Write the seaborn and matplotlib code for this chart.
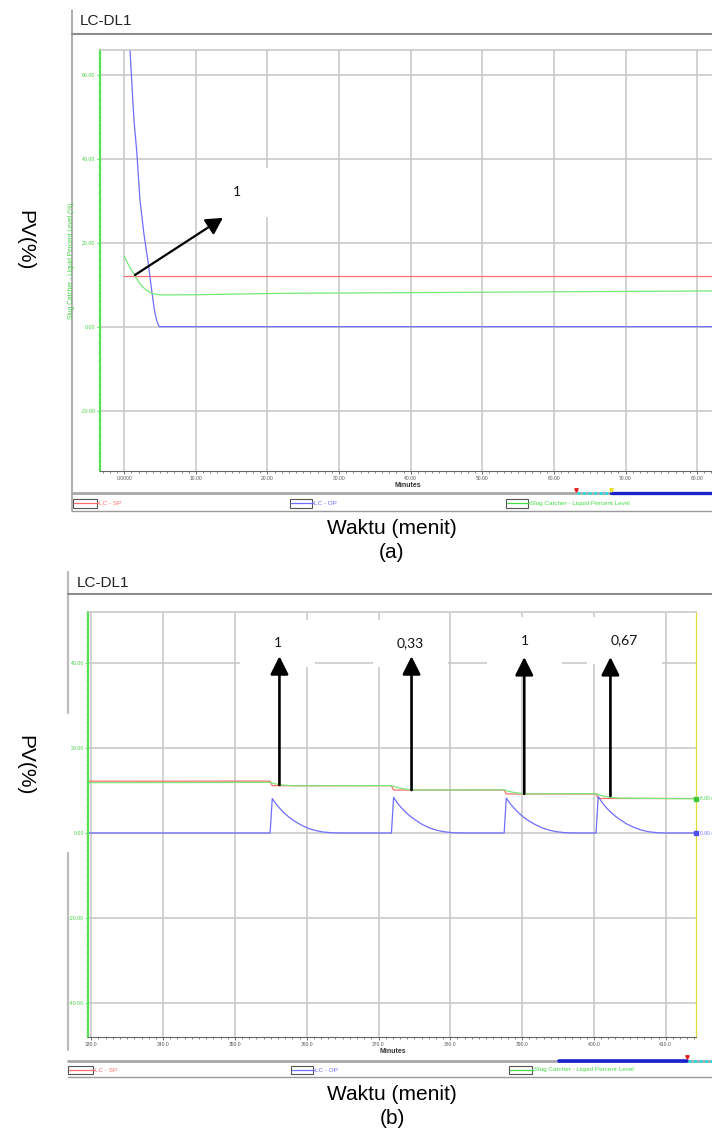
import matplotlib
matplotlib.use("Agg")
import matplotlib.pyplot as plt
import seaborn as sns
from matplotlib.patches import Rectangle
from matplotlib.ticker import MultipleLocator, FixedLocator

sns.set_style("white")
plt.rcParams["font.family"] = ["Liberation Sans", "DejaVu Sans"]

W, H = 712, 1140

# ---------------- data: panel (a) ----------------
a_sp_t = [0.0, 82.1]
a_sp_v = [12.07, 12.07]
a_pv_t = [0.0, 0.5, 1.0, 1.49, 2.0, 2.5, 3.0, 3.82, 4.5, 5.44, 10.0, 22.6, 40.0, 60.0, 82.1]
a_pv_v = [16.7, 15.0, 13.5, 12.07, 10.7, 9.6, 8.8, 7.95, 7.65, 7.55, 7.6, 7.95, 8.1, 8.3, 8.5]
a_op_t = [0.0, 0.8, 1.35, 1.73, 2.19, 2.75, 3.35, 3.8, 4.2, 4.55, 4.88, 20.0, 40.0, 60.0, 82.1]
a_op_v = [90.0, 65.9, 49.2, 42.0, 30.2, 22.0, 15.1, 9.0, 4.0, 1.3, 0.0, 0.0, 0.0, 0.0, 0.0]
a_xticks = [0, 10, 20, 30, 40, 50, 60, 70, 80]
a_xticklabels = ["0.0000", "10.00", "20.00", "30.00", "40.00", "50.00", "60.00", "70.00", "80.00"]
a_yticks = [-20, 0, 20, 40, 60]
a_yticklabels = ["-20.00", "0.00", "20.00", "40.00", "60.00"]
a_arrow_start = [(1.49, 12.3)]
a_arrow_end = [(13.77, 25.9)]
a_labels = ["1"]
a_label_x = [15.8]
a_label_y = [32.0]

# ---------------- data: panel (b) ----------------
b_sp_t = [329.6, 354.9, 355.2, 371.8, 372.1, 387.5, 387.8, 400.3, 400.6, 414.15]
b_sp_v = [12.2, 12.2, 11.13, 11.13, 10.1, 10.1, 9.18, 9.18, 8.12, 8.12]
b_pv_t = [329.6, 354.9, 355.5, 356.5, 358.0, 371.8, 372.4, 373.5, 375.0, 387.5, 388.1,
          389.2, 390.5, 400.3, 400.9, 402.0, 403.5, 414.15]
b_pv_v = [11.85, 11.9, 11.6, 11.3, 11.1, 11.15, 10.8, 10.4, 10.1, 10.15, 9.8,
          9.45, 9.2, 9.25, 8.85, 8.45, 8.2, 8.05]
b_op_t = [329.6,
          354.9, 355.2, 355.7, 356.2, 356.7, 357.2, 357.7, 358.2, 359.2, 360.2, 361.2, 362.2, 363.5, 365.0,
          371.8, 372.1, 372.6, 373.1, 373.6, 374.1, 374.6, 375.1, 376.1, 377.1, 378.1, 379.1, 380.4, 382.0,
          387.5, 387.8, 388.3, 388.8, 389.3, 389.8, 390.3, 390.8, 391.8, 392.8, 393.8, 394.8, 396.1, 397.7,
          400.3, 400.6, 401.1, 401.6, 402.1, 402.6, 403.1, 403.6, 404.6, 405.6, 406.6, 407.6, 408.9, 410.5,
          414.15]
b_op_v = [0.0,
          0.0, 8.1, 6.9, 5.9, 5.0, 4.2, 3.5, 2.9, 1.9, 1.1, 0.6, 0.25, 0.05, 0.0,
          0.0, 8.4, 7.1, 6.1, 5.2, 4.4, 3.7, 3.1, 2.0, 1.2, 0.65, 0.3, 0.05, 0.0,
          0.0, 8.2, 7.0, 6.0, 5.1, 4.3, 3.6, 3.0, 2.0, 1.2, 0.65, 0.3, 0.05, 0.0,
          0.0, 8.6, 7.3, 6.2, 5.3, 4.5, 3.8, 3.2, 2.1, 1.3, 0.7, 0.3, 0.05, 0.0,
          0.0]
b_xticks = [330, 340, 350, 360, 370, 380, 390, 400, 410]
b_xticklabels = ["330.0", "340.0", "350.0", "360.0", "370.0", "380.0", "390.0", "400.0", "410.0"]
b_yticks = [-40, -20, 0, 20, 40]
b_yticklabels = ["-40.00", "-20.00", "0.00", "20.00", "40.00"]
b_labels = ["1", "0,33", "1", "0,67"]
b_arrow_x = [356.2, 374.6, 390.3, 402.3]
b_arrow_base = [11.3, 10.1, 9.2, 8.7]
b_arrow_tip = [41.6, 41.6, 41.4, 41.4]
b_label_x = [356.0, 374.4, 390.4, 404.2]
b_label_y = [44.6, 44.6, 45.2, 45.4]

legend_names = ["LC - SP", "LC - OP", "Slug Catcher - Liquid Percent Level"]

C_SP = "#ff6e6e"
C_OP = "#6e6eff"
C_PV = "#78e878"
C_AX = "#55e055"
C_TXT_G = "#44d044"
C_GRID = "#c6c6c6"

fig = plt.figure(figsize=(W / 100, H / 100), dpi=100)
fig.patch.set_facecolor("white")

# decoration layer in pixel coordinates
dax = fig.add_axes([0, 0, 1, 1], zorder=0)
dax.set_xlim(0, W)
dax.set_ylim(H, 0)
dax.axis("off")


def px_axes(left, top, right, bottom):
    return fig.add_axes([left / W, 1 - bottom / H, (right - left) / W, (bottom - top) / H], zorder=2)


def style_axes(ax, xlim, ylim, xticks, xticklabels, yticks, yticklabels, right_color=None):
    ax.set_facecolor("white")
    ax.set_xlim(*xlim)
    ax.set_ylim(*ylim)
    ax.xaxis.set_major_locator(FixedLocator(xticks))
    ax.set_xticklabels(xticklabels)
    ax.xaxis.set_minor_locator(MultipleLocator(1))
    ax.yaxis.set_major_locator(FixedLocator(yticks))
    ax.set_yticklabels(yticklabels)
    ax.yaxis.set_minor_locator(MultipleLocator(2))
    ax.set_axisbelow(True)
    ax.grid(True, which="major", color=C_GRID, lw=1.1)
    ax.grid(False, which="minor")
    ax.tick_params(axis="x", which="major", direction="out", length=2.4, width=0.6,
                   color="#555555", labelsize=3.6, labelcolor="#555555", pad=1.2, bottom=True)
    ax.tick_params(axis="x", which="minor", direction="out", length=1.4, width=0.5,
                   color="#555555", bottom=True)
    ax.tick_params(axis="y", which="major", direction="out", length=2.2, width=0.7,
                   color=C_AX, labelsize=3.8, labelcolor=C_TXT_G, pad=1.0, left=True)
    ax.tick_params(axis="y", which="minor", direction="out", length=1.4, width=0.6,
                   color=C_AX, left=True)
    ax.spines["left"].set_color(C_AX)
    ax.spines["left"].set_linewidth(1.6)
    ax.spines["bottom"].set_color("#666666")
    ax.spines["bottom"].set_linewidth(0.8)
    ax.spines["top"].set_color(C_GRID)
    ax.spines["top"].set_linewidth(1.1)
    if right_color is None:
        ax.spines["right"].set_visible(False)
    else:
        ax.spines["right"].set_color(right_color)
        ax.spines["right"].set_linewidth(0.9)
    ax.set_xlabel("Minutes", fontsize=5, fontweight="bold", color="#333333")


def lines(ax, t_sp, v_sp, t_op, v_op, t_pv, v_pv):
    sns.lineplot(x=t_sp, y=v_sp, ax=ax, color=C_SP, lw=0.9, estimator=None, sort=False)
    sns.lineplot(x=t_op, y=v_op, ax=ax, color=C_OP, lw=0.9, estimator=None, sort=False)
    sns.lineplot(x=t_pv, y=v_pv, ax=ax, color=C_PV, lw=0.9, estimator=None, sort=False)


def label_box(ax, x, y, text, w, h):
    ax.add_patch(Rectangle((x - w / 2, y - h / 2), w, h, facecolor="white",
                           edgecolor="none", zorder=1.5))
    ax.text(x, y, text, ha="center", va="center", fontsize=10, family=["Lato", "DejaVu Sans"],
            color="#111111", zorder=4)


# ---------------- panel (a) ----------------
ax1 = px_axes(100, 50, 712, 470.7)
style_axes(ax1, (-3.39, 82.08), (-34.3, 65.88), a_xticks, a_xticklabels, a_yticks, a_yticklabels)
lines(ax1, a_sp_t, a_sp_v, a_op_t, a_op_v, a_pv_t, a_pv_v)
ax1.set_ylabel("Slug Catcher - Liquid Percent Level (%)", fontsize=4.8, color=C_TXT_G)
ax1.yaxis.set_label_coords(-0.041, 0.5)
ax1.xaxis.set_label_coords(0.503, -0.026)
for (x0, y0), (x1, y1) in zip(a_arrow_start, a_arrow_end):
    ax1.annotate("", xy=(x1, y1), xytext=(x0, y0),
                 arrowprops=dict(arrowstyle="-|>,head_length=1.0,head_width=0.55",
                                 mutation_scale=10, color="black", lw=1.6,
                                 shrinkA=0, shrinkB=0), zorder=5)
for x, y, t in zip(a_label_x, a_label_y, a_labels):
    label_box(ax1, x, y, t, 75 / 7.16, 49 / 4.2)

# ---------------- panel (b) ----------------
ax2 = px_axes(88.3, 611.7, 695.5, 1037.3)
style_axes(ax2, (329.58, 414.15), (-48.07, 52.07), b_xticks, b_xticklabels, b_yticks, b_yticklabels,
           right_color="#dede3a")
lines(ax2, b_sp_t, b_sp_v, b_op_t, b_op_v, b_pv_t, b_pv_v)
ax2.set_ylabel("")
ax2.xaxis.set_label_coords(0.501, -0.025)
for x, y0, y1 in zip(b_arrow_x, b_arrow_base, b_arrow_tip):
    ax2.annotate("", xy=(x, y1), xytext=(x, y0),
                 arrowprops=dict(arrowstyle="-|>,head_length=1.1,head_width=0.55",
                                 mutation_scale=10, color="black", lw=1.9,
                                 shrinkA=0, shrinkB=0), zorder=5)
for x, y, t in zip(b_label_x, b_label_y, b_labels):
    label_box(ax2, x, y, t, 75 / 7.18, 47 / 4.25)
# end markers on the right axis
ax2.plot([b_pv_t[-1]], [b_pv_v[-1]], marker="s", ms=2.8, color="#3cc83c", clip_on=False, zorder=6)
ax2.plot([b_op_t[-1]], [b_op_v[-1]], marker="s", ms=2.8, color="#5050f0", clip_on=False, zorder=6)
yt = ax2.get_yaxis_transform()
ax2.text(1.008, b_pv_v[-1], "8.00 (", transform=yt, fontsize=3.6, color=C_TXT_G, va="center", clip_on=False)
ax2.text(1.008, b_op_v[-1], "0.00 (", transform=yt, fontsize=3.6, color=C_OP, va="center", clip_on=False)

# ---------------- decorations (screenshot frames) ----------------
GR = "#9a9a9a"
# frame (a)
dax.plot([72, 72], [10, 511], color=GR, lw=1.1)
dax.plot([72, 712], [33.5, 33.5], color="#8c8c8c", lw=1.5)
dax.text(80, 21, "LC-DL1", fontsize=11, color="#222222", va="center", ha="left")
dax.plot([72, 712], [493.3, 493.3], color="#a8a8a8", lw=2.0)
dax.plot([577, 611], [493.3, 493.3], color="#22dde8", lw=2.0, ls=(0, (1, 1)))
dax.plot([611, 712], [493.3, 493.3], color="#1a22cc", lw=2.4)
dax.plot([576], [489.5], marker="v", ms=2.5, color="#e02020")
dax.plot([611], [489.5], marker="v", ms=2.5, color="#e8e020")
dax.plot([72, 712], [511, 511], color=GR, lw=1.0)
# frame (b)
dax.plot([68, 68], [572, 713], color="#bcbcbc", lw=1.6)
dax.plot([68, 68], [853, 1050], color="#bcbcbc", lw=1.6)
dax.plot([68, 712], [594.3, 594.3], color="#8c8c8c", lw=1.5)
dax.text(77, 583, "LC-DL1", fontsize=11, color="#222222", va="center", ha="left")
dax.plot([68, 712], [1060.7, 1060.7], color="#a8a8a8", lw=2.0)
dax.plot([559, 687], [1060.7, 1060.7], color="#1a22cc", lw=2.6)
dax.plot([688, 712], [1060.7, 1060.7], color="#22dde8", lw=2.0, ls=(0, (1, 1)))
dax.plot([687], [1056.5], marker="v", ms=2.5, color="#e02020")
dax.plot([68, 712], [1076.7, 1076.7], color=GR, lw=1.0)

# legends
legend_colors = [C_SP, C_OP, "#44dd44"]
leg_a = [(73, 96.7), (290.4, 312.1), (506.2, 528.0)]
leg_b = [(68, 93.3), (290.5, 312.7), (509.4, 531.6)]
for boxes, yc in ((leg_a, 503.2), (leg_b, 1070.0)):
    for (x0, x1), name, col in zip(boxes, legend_names, legend_colors):
        dax.add_patch(Rectangle((x0, yc - 4.3), x1 - x0, 8.6, facecolor="white",
                                edgecolor="#555555", lw=0.8))
        dax.plot([x0 + 1, x1 + 1], [yc, yc], color=col, lw=0.9)
        dax.text(x1 + 2, yc, name, fontsize=4.6, color=col, va="center", ha="left")

# outer captions
cap = dict(fontsize=15, color="black", ha="center", va="center")
fig.text(25 / W, 1 - 240 / H, "PV(%)", rotation=270, **cap)
fig.text(25 / W, 1 - 765 / H, "PV(%)", rotation=270, **cap)
fig.text(392 / W, 1 - 528 / H, "Waktu (menit)", **cap)
fig.text(392 / W, 1 - 552 / H, "(a)", **cap)
fig.text(392 / W, 1 - 1094 / H, "Waktu (menit)", **cap)
fig.text(392 / W, 1 - 1118 / H, "(b)", **cap)

fig.savefig("out.png", dpi=100, facecolor="white")
